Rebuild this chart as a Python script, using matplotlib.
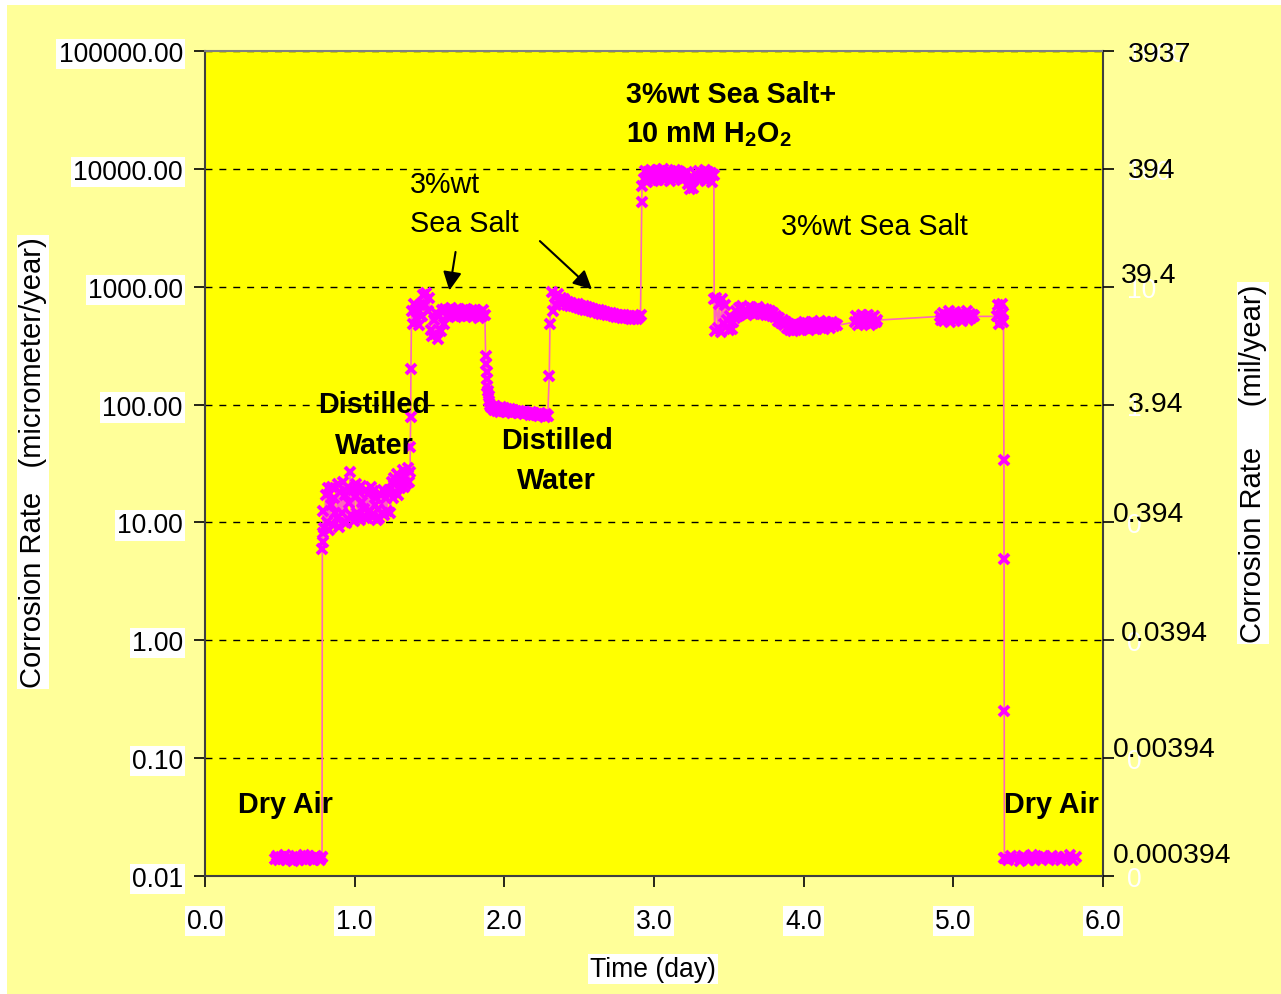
import numpy as np
import matplotlib
matplotlib.use("Agg")
import matplotlib.pyplot as plt
from matplotlib.patches import Rectangle
from matplotlib.ticker import FixedLocator, NullLocator

plt.rcParams['font.family'] = ['Liberation Sans', 'DejaVu Sans']
plt.rcParams['mathtext.fontset'] = 'custom'
plt.rcParams['mathtext.rm'] = 'Liberation Sans'
plt.rcParams['mathtext.bf'] = 'Liberation Sans:bold'

W, H = 1281, 995
FS = 19.1      # tick labels
FS_NOTE = 20.7  # labels inside the plot
FS_AX = 21     # axis titles

# --- corrosion rate record (day, micrometer/year), one block per exposure ---
dry1_t = (0.47, 0.78)
dry1_v = [0.0140, 0.0148, 0.0136, 0.0145, 0.0139, 0.0150, 0.0137, 0.0146,
          0.0141, 0.0135, 0.0149, 0.0138, 0.0144, 0.0140, 0.0151, 0.0136,
          0.0147, 0.0139, 0.0143, 0.0137, 0.0148, 0.0141, 0.0136, 0.0145]

jump1_day = [0.782, 0.784, 0.786, 0.788]
jump1_val = [0.0145, 5.9, 6.8, 8.2]

dw1_t = (0.79, 1.37)
dw1_v = [12.5, 9.0, 17.0, 10.0, 19.5, 8.6, 14.0, 20.0, 9.5, 16.0, 12.0,
         11.0, 21.0, 9.2, 18.0, 12.0, 22.0, 10.0, 17.0, 9.8, 20.0, 14.5,
         27.0, 11.5, 19.0, 10.2, 16.5, 21.0, 12.0, 18.0, 10.5, 20.5, 15.0,
         13.0, 11.0, 19.0, 10.8, 17.5, 12.5, 20.0, 11.2, 18.5, 14.0, 16.0,
         10.5, 13.0, 11.0, 17.0, 12.0, 19.0, 11.5, 16.0, 12.5, 18.0,
         19.0, 12.0, 22.0, 16.0, 24.0, 18.0, 26.0, 17.0, 23.0, 19.5, 21.0,
         28.0, 20.0, 25.0, 21.0, 29.0, 22.0, 27.0]

jump2_day = [1.372, 1.374, 1.376]
jump2_val = [44, 78, 200]

ss1_t = (1.38, 1.87)
ss1_v = [620, 480, 720, 540, 650, 470, 700, 560,
         850, 700, 880, 620, 800, 430, 380, 520, 400, 600,
         360, 560, 420, 640, 480, 650, 560,
         640, 560, 660, 580, 620, 550, 650, 570, 640, 560, 630, 590, 650,
         560, 620, 580, 640, 550, 630, 570, 610, 540, 600, 560, 640, 580]

drop1_day = [1.875, 1.878, 1.881, 1.884, 1.887, 1.890, 1.895, 1.900, 1.905, 1.910]
drop1_val = [260, 220, 190, 165, 145, 130, 118, 108, 100, 95]

dw2_t = (1.92, 2.29)
dw2_v = [96, 90, 98, 88, 94, 87, 95, 89, 93, 86, 92, 88, 91, 85, 90, 87,
         89, 84, 88, 86, 87, 83, 86, 84, 85, 82, 86, 81, 84, 82, 83, 80,
         84, 81, 82, 79, 83, 80]

jump3_day = [2.300]
jump3_val = [175]

ss2_t = (2.305, 2.91)
ss2_v = [480, 900, 620, 820, 700, 860, 760, 800, 720, 780,
         760, 700, 740, 690, 730, 680, 720, 670, 710, 660,
         690, 650, 680, 640, 670, 630, 660, 620, 650, 610,
         640, 600, 630, 590, 620, 585, 610, 575, 600, 570,
         595, 560, 590, 555, 580, 550, 575, 545, 570, 540,
         565, 540, 560, 535, 555, 530, 560, 535, 550, 570]

jump4_day = [2.918, 2.920]
jump4_val = [5200, 7100]

h2o2_t = (2.93, 3.40)
h2o2_v = [8200, 9600, 7800, 9400, 8600, 9800, 7900, 9300, 8500, 9700,
          8000, 9500, 8700, 9900, 8100, 9400, 8800, 9600, 7900, 9200,
          8400, 9800, 8200, 9500, 8600, 9300, 8100, 9000, 8300, 9400,
          7400, 6700, 7900, 6900, 8200, 9000, 8300, 9600, 8000, 9300,
          8600, 9700, 7900, 9400, 8500, 9200, 7800, 8800]

drop2_day = [3.402]
drop2_val = [780]

ss3_t = (3.405, 4.22)
ss3_v = [420, 800, 450, 720, 410, 780, 480, 700,
         520, 430, 560, 440, 500,
         540, 620, 560, 660, 590, 680, 610,
         640, 580, 670, 600, 660, 590, 650, 600, 670, 610,
         640, 590, 650, 580, 630, 570, 620, 560, 600, 550,
         560, 510, 540, 490, 520, 470, 500, 450, 480, 430,
         470, 420, 460, 430, 470,
         430, 480, 440, 500, 450, 490, 430, 480, 450, 500,
         440, 490, 460, 510, 450, 480, 440, 500, 460, 490,
         450, 500, 460, 480, 470]

ss4_t = (4.34, 4.49)
ss4_v = [500, 560, 470, 540, 490, 580, 480, 550, 500, 570, 470, 540, 490, 560, 500, 520]

ss5_t = (4.91, 5.14)
ss5_v = [560, 520, 600, 510, 580, 540, 620, 500, 590, 530, 610, 520,
         570, 540, 600, 510, 580, 550, 620, 520, 590, 540, 570, 560]

ss6_t = (5.29, 5.335)
ss6_v = [560, 700, 480, 650, 520, 720, 500, 600]

drop3_day = [5.338, 5.339, 5.340, 5.341]
drop3_val = [34, 4.9, 0.25, 0.0142]

dry2_t = (5.345, 5.82)
dry2_v = [0.0143, 0.0137, 0.0149, 0.0140, 0.0146, 0.0135, 0.0148, 0.0141,
          0.0138, 0.0150, 0.0136, 0.0145, 0.0139, 0.0147, 0.0142, 0.0136,
          0.0149, 0.0140, 0.0144, 0.0137, 0.0146, 0.0139, 0.0151, 0.0138, 0.0144]

# axis tick labels
y_ticks = [0.01, 0.1, 1, 10, 100, 1000, 10000, 100000]
y_ticklabels = ["0.01", "0.10", "1.00", "10.00", "100.00", "1000.00", "10000.00", "100000.00"]
x_ticks = [0, 1, 2, 3, 4, 5, 6]
x_ticklabels = ["0.0", "1.0", "2.0", "3.0", "4.0", "5.0", "6.0"]
mil_labels = ["0.000394", "0.00394", "0.0394", "0.394", "3.94", "39.4", "394", "3937"]
mil_old_labels = ["0", "0", "0", "0", "1", "10", "100", "1000"]


def block(span, vals):
    return list(np.linspace(span[0], span[1], len(vals))), list(vals)


pieces = [block(dry1_t, dry1_v), (jump1_day, jump1_val), block(dw1_t, dw1_v),
          (jump2_day, jump2_val), block(ss1_t, ss1_v), (drop1_day, drop1_val),
          block(dw2_t, dw2_v), (jump3_day, jump3_val), block(ss2_t, ss2_v),
          (jump4_day, jump4_val), block(h2o2_t, h2o2_v), (drop2_day, drop2_val),
          block(ss3_t, ss3_v), block(ss4_t, ss4_v), block(ss5_t, ss5_v),
          block(ss6_t, ss6_v), (drop3_day, drop3_val), block(dry2_t, dry2_v)]
days, rate = [], []
for d, v in pieces:
    days += list(d)
    rate += list(v)

fig = plt.figure(figsize=(W / 100, H / 100), dpi=100, facecolor="white")
fig.patches.append(Rectangle((7 / W, 0), 1, 1 - 6 / H, transform=fig.transFigure,
                             facecolor="#FFFF99", edgecolor="none", zorder=-10))

ax = fig.add_axes([205 / W, 1 - 877 / H, (1103 - 205) / W, (877 - 52) / H])
ax.set_facecolor("#FFFF00")
ax.set_yscale("log")
ax.set_xlim(0, 6)
ax.set_ylim(0.01, 100000)

ax.plot(days, rate, color="#FF66BB", lw=1.2, marker="x", ms=7.5,
        mec="#FF00FF", mew=2.8, zorder=3)

ax.yaxis.set_major_locator(FixedLocator(y_ticks))
ax.yaxis.set_minor_locator(NullLocator())
ax.set_yticklabels(y_ticklabels)
ax.set_xticks(x_ticks)
ax.set_xticklabels(x_ticklabels)
ax.tick_params(axis="y", direction="out", length=8, width=1.2, pad=8, labelsize=FS)
ax.tick_params(axis="x", direction="out", length=8, width=1.2, pad=15, labelsize=FS)
for lab in ax.get_yticklabels() + ax.get_xticklabels():
    lab.set_bbox(dict(facecolor="white", edgecolor="none", pad=1.5))

ax.grid(axis="y", which="major", color="black", linestyle=(0, (5, 5)), lw=1)
for side in ["left", "bottom", "right"]:
    ax.spines[side].set_color("#404040")
    ax.spines[side].set_linewidth(1.5)
ax.spines["top"].set_color("#808080")
ax.spines["top"].set_linewidth(1.5)

# right axis in mil/year; the old white tick labels sit under the new ones
ax2 = ax.twinx()
ax2.set_yscale("log")
ax2.set_ylim(0.01, 100000)
ax2.yaxis.set_major_locator(FixedLocator(y_ticks))
ax2.yaxis.set_minor_locator(NullLocator())
ax2.set_yticklabels(mil_old_labels)
ax2.tick_params(axis="y", direction="out", length=8, width=1.2, pad=9,
                labelsize=FS, labelcolor="white")
for side in ax2.spines.values():
    side.set_visible(False)

mil_pos = [(1113, 856), (1113, 750), (1121, 634), (1113, 515),
           (1128, 405), (1121, 276), (1128, 171), (1128, 55)]
for lab, (px, py) in zip(mil_labels, mil_pos):
    fig.text(px / W, 1 - py / H, lab, ha="left", va="center", fontsize=20.4, zorder=5)

# exposure labels
bold = dict(fontsize=FS_NOTE, fontweight="bold", zorder=5)
ax.text(0.54, 0.041, "Dry Air", ha="center", va="center", **bold)
ax.text(1.13, 68, "Distilled\nWater", ha="center", va="center", linespacing=1.58, **bold)
ax.text(2.351, 33.8, "Distilled\nWater", ha="center", va="center", linespacing=1.58, **bold)
ax.text(5.658, 0.041, "Dry Air", ha="center", va="center", **bold)
ax.text(2.812, 29000, "3%wt Sea Salt+\n10 mM H$_\\mathbf{2}$O$_\\mathbf{2}$",
        ha="left", va="center", linespacing=1.5, **bold)
ax.text(1.37, 5100, "3%wt\nSea Salt", ha="left", va="center", fontsize=FS_NOTE,
        linespacing=1.5, zorder=5)
ax.text(3.848, 3300, "3%wt Sea Salt", ha="left", va="center", fontsize=FS_NOTE, zorder=5)

arrow = dict(arrowstyle="-|>", color="black", lw=1.5, mutation_scale=28)
ax.annotate("", xy=(1.63, 881), xytext=(1.677, 2080), arrowprops=arrow, zorder=5)
ax.annotate("", xy=(2.599, 916), xytext=(2.224, 2530), arrowprops=arrow, zorder=5)

lab_box = dict(facecolor="white", edgecolor="none", pad=1.5)
fig.text(33 / W, 1 - 463 / H, "Corrosion Rate   (micrometer/year)", rotation=90,
         ha="center", va="center", fontsize=FS_AX, bbox=lab_box)
fig.text(1253 / W, 1 - 464 / H, "Corrosion Rate     (mil/year)", rotation=90,
         ha="center", va="center", fontsize=FS_AX, bbox=lab_box)
fig.text(653 / W, 1 - 970 / H, "Time (day)", ha="center", va="center",
         fontsize=FS, bbox=lab_box)

fig.savefig("out.png", dpi=100, facecolor=fig.get_facecolor())
